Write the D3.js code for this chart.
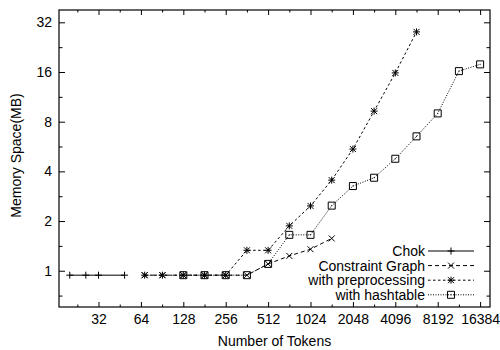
<!DOCTYPE html>
<html>
<head>
<meta charset="utf-8">
<script src="https://cdn.jsdelivr.net/npm/d3@7"></script>
<style>
  body { margin: 0; background: #fff; }
  svg { display: block; font-family: "Liberation Sans", Arial, sans-serif; }
</style>
</head>
<body>
<svg width="500" height="350"></svg>
<script>
// tick labels
let xTicks = [32, 64, 128, 256, 512, 1024, 2048, 4096, 8192, 16384];
let yTicks = [1, 2, 4, 8, 16, 32];

// series
let chokX = [20, 26, 32, 49];
let chokY = [0.94, 0.94, 0.94, 0.94];
let graphX = [68, 91, 128, 181, 256, 362, 512, 724, 1024, 1448];
let graphY = [0.94, 0.94, 0.94, 0.94, 0.94, 0.94, 1.10, 1.23, 1.35, 1.57];
let prepX = [68, 91, 128, 181, 256, 362, 512, 724, 1024, 1448, 2048, 2896, 4096, 5793];
let prepY = [0.94, 0.94, 0.94, 0.94, 0.94, 1.33, 1.33, 1.87, 2.47, 3.54, 5.46, 9.27, 15.8, 28.0];
let hashX = [128, 181, 256, 362, 512, 724, 1024, 1448, 2048, 2896, 4096, 5793, 8192, 11585, 16384];
let hashY = [0.94, 0.94, 0.94, 0.94, 1.10, 1.65, 1.65, 2.48, 3.26, 3.66, 4.77, 6.52, 8.98, 16.2, 17.8];

let names = ['Chok', 'Constraint Graph', 'with preprocessing', 'with hashtable'];

let svg = d3.select('svg');
let pLeft = 59, pRight = 490, pTop = 10, pBottom = 307;

let x = d3.scaleLog().base(2).domain([16.77, 19260]).range([pLeft, pRight]);
let y = d3.scaleLog().base(2).domain([0.603, 38.0]).range([pBottom, pTop]);

// minor ticks sit half way (in log) between the labelled ones
let xMinor = [xTicks[0] / Math.SQRT2].concat(xTicks.map(d => d * Math.SQRT2)).filter(d => x(d) < pRight);
let yMinor = [yTicks[0] / Math.SQRT2].concat(yTicks.map(d => d * Math.SQRT2)).filter(d => y(d) > pTop);

let frame = svg.append('g');

let drawAxis = (axis, transform, labels) => {
    let g = frame.append('g').attr('transform', transform).call(axis);
    g.select('.domain').remove();
    g.selectAll('line').attr('stroke', '#000');
    g.selectAll('text')
        .attr('fill', '#000')
        .style('font-size', '14px')
        .style('font-family', '"Liberation Sans", Arial, sans-serif');
    if (!labels) g.selectAll('text').remove();
    return g;
};

// bottom + top (mirror) major and minor ticks
drawAxis(d3.axisBottom(x).tickValues(xTicks).tickFormat(d3.format('d')).tickSizeInner(-5).tickPadding(7), `translate(0,${pBottom})`, true);
drawAxis(d3.axisBottom(x).tickValues(xMinor).tickFormat('').tickSizeInner(-2.5), `translate(0,${pBottom})`, false);
drawAxis(d3.axisTop(x).tickValues(xTicks).tickFormat('').tickSizeInner(-5), `translate(0,${pTop})`, false);
drawAxis(d3.axisTop(x).tickValues(xMinor).tickFormat('').tickSizeInner(-2.5), `translate(0,${pTop})`, false);

// left + right (mirror)
drawAxis(d3.axisLeft(y).tickValues(yTicks).tickFormat(d3.format('d')).tickSizeInner(-6).tickPadding(7), `translate(${pLeft},0)`, true);
drawAxis(d3.axisLeft(y).tickValues(yMinor).tickFormat('').tickSizeInner(-3.5), `translate(${pLeft},0)`, false);
drawAxis(d3.axisRight(y).tickValues(yTicks).tickFormat('').tickSizeInner(-6), `translate(${pRight},0)`, false);
drawAxis(d3.axisRight(y).tickValues(yMinor).tickFormat('').tickSizeInner(-3.5), `translate(${pRight},0)`, false);

frame.append('rect')
    .attr('x', pLeft).attr('y', pTop)
    .attr('width', pRight - pLeft).attr('height', pBottom - pTop)
    .attr('fill', 'none').attr('stroke', '#000').attr('stroke-width', 1.2);

svg.append('text')
    .attr('x', (pLeft + pRight) / 2).attr('y', 346)
    .attr('text-anchor', 'middle').style('font-size', '14px')
    .text('Number of Tokens');

svg.append('text')
    .attr('transform', `translate(21, ${(pTop + pBottom) / 2 - 3}) rotate(-90)`)
    .attr('text-anchor', 'middle').style('font-size', '14px')
    .text('Memory Space(MB)');

// point shapes, gnuplot style
let marks = {
    plus: 'M-3.5,0H3.5M0,-3.5V3.5',
    cross: 'M-3,-3L3,3M-3,3L3,-3',
    star: 'M-3.5,0H3.5M0,-3.5V3.5M-3,-3L3,3M-3,3L3,-3',
    box: 'M-3.5,-3.5H3.5V3.5H-3.5Z M-0.5,0H0.5'
};

let series = [
    { name: names[0], xs: chokX, ys: chokY, dash: null, mark: 'plus' },
    { name: names[1], xs: graphX, ys: graphY, dash: '4,3', mark: 'cross' },
    { name: names[2], xs: prepX, ys: prepY, dash: '2.5,2.5', mark: 'star' },
    { name: names[3], xs: hashX, ys: hashY, dash: '1,1.5', mark: 'box' }
];

let line = d3.line().x(d => x(d[0])).y(d => y(d[1]));

let plot = svg.append('g');
series.forEach(s => {
    let pts = s.xs.map((v, i) => [v, s.ys[i]]);
    plot.append('path')
        .datum(pts)
        .attr('d', line)
        .attr('fill', 'none')
        .attr('stroke', '#000')
        .attr('stroke-width', 1)
        .attr('stroke-dasharray', s.dash);
    plot.selectAll(null)
        .data(pts)
        .enter()
        .append('path')
        .attr('transform', d => `translate(${x(d[0])},${y(d[1])})`)
        .attr('d', marks[s.mark])
        .attr('fill', 'none')
        .attr('stroke', '#000')
        .attr('stroke-width', 1);
});

// legend, bottom right inside the frame
let legend = svg.append('g');
series.forEach((s, i) => {
    let ly = 251 + i * 14.6;
    legend.append('text')
        .attr('x', 425).attr('y', ly)
        .attr('dy', '0.35em')
        .attr('text-anchor', 'end')
        .style('font-size', '14px')
        .text(s.name);
    legend.append('path')
        .attr('d', `M428,${ly}H474`)
        .attr('stroke', '#000')
        .attr('stroke-width', 1)
        .attr('stroke-dasharray', s.dash);
    legend.append('path')
        .attr('transform', `translate(451,${ly})`)
        .attr('d', marks[s.mark])
        .attr('fill', 'none')
        .attr('stroke', '#000');
});
</script>
</body>
</html>
